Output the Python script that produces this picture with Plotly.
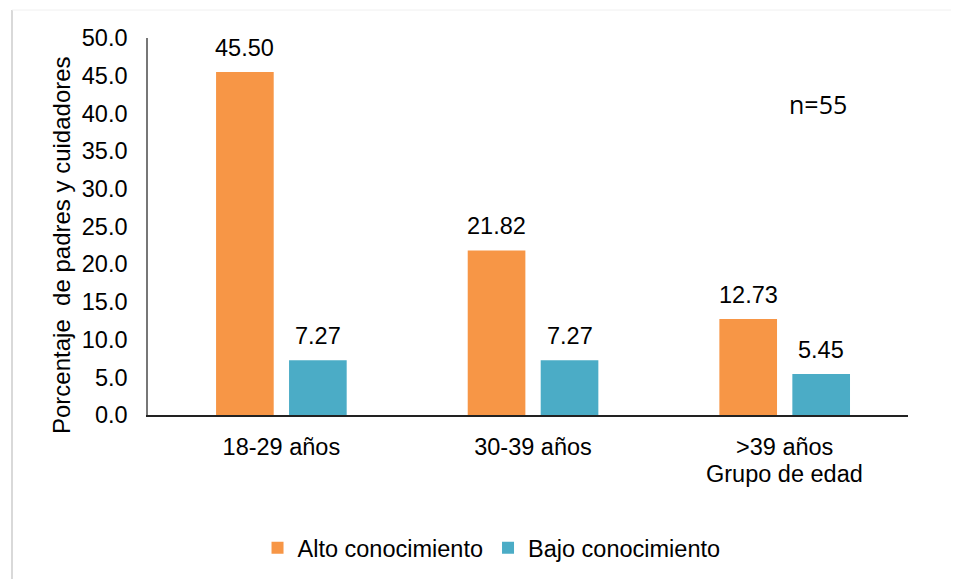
import plotly.graph_objects as go

categories = ["18-29 años", "30-39 años", ">39 años"]
alto = [45.50, 21.82, 12.73]
bajo = [7.27, 7.27, 5.45]
series_names = ["Alto conocimiento", "Bajo conocimiento"]
colors = ["#F79646", "#4BACC6"]
y_ticks = [0, 5, 10, 15, 20, 25, 30, 35, 40, 45, 50]

FONT = "Liberation Sans, Arial, sans-serif"
FS = 23.5
W, H = 951, 571
L, R, T, B = 140, 51, 30, 164
pw = W - L - R
ph = H - T - B


def px_x(x):  # screenshot pixel -> paper x
    return (x - 8 - L) / pw


def px_y(y):  # screenshot pixel -> paper y
    return (H - B - (y - 8)) / ph


fig = go.Figure()
for name, vals, col in zip(series_names, [alto, bajo], colors):
    fig.add_trace(go.Bar(x=categories, y=vals, name=name, marker=dict(color=col, line=dict(width=0))))

# data labels
slot_px = 73
for i, vals in enumerate([alto, bajo]):
    sh = (-0.5 + i) * slot_px
    for c, v in zip(categories, vals):
        fig.add_annotation(x=c, y=v, xref="x", yref="y", text=f"{v:.2f}", showarrow=False,
                           xshift=sh, yshift=24, font=dict(size=FS, color="#000", family=FONT))

fig.add_annotation(x=">39 años", y=0, xref="x", yref="y", text="Grupo de edad", showarrow=False,
                   yshift=-59, font=dict(size=FS, color="#000", family=FONT))
fig.add_annotation(x=px_x(818), y=px_y(104), xref="paper", yref="paper", text="n=55",
                   showarrow=False, xanchor="center", yanchor="middle",
                   font=dict(size=25, color="#000", family="Open Sans, sans-serif"))
fig.add_annotation(x=px_x(61), y=px_y(245), xref="paper", yref="paper",
                   text="Porcentaje  de padres y cuidadores", textangle=-90,
                   showarrow=False, xanchor="center", yanchor="middle",
                   font=dict(size=24, color="#000", family=FONT))

fig.add_shape(type="line", xref="paper", yref="paper",
              x0=px_x(12), x1=px_x(12), y0=px_y(10), y1=px_y(579),
              line=dict(color="#d9d9d9", width=2))
fig.add_shape(type="line", xref="paper", yref="paper",
              x0=px_x(12), x1=px_x(959), y0=px_y(10), y1=px_y(10),
              line=dict(color="#f0f0f0", width=1))

fig.update_layout(
    width=W, height=H,
    margin=dict(l=L, r=R, t=T, b=B, autoexpand=False),
    paper_bgcolor="white", plot_bgcolor="white",
    barmode="group", bargap=0.42, bargroupgap=0.21,
    font=dict(family=FONT, size=FS, color="#000"),
    showlegend=True,
    legend=dict(orientation="h", x=0.452, xanchor="center", y=px_y(548), yanchor="middle",
                font=dict(size=FS, family=FONT), itemwidth=30, traceorder="normal"),
    xaxis=dict(showline=True, linecolor="#222", linewidth=1.5, ticks="", showgrid=False,
               range=[-0.53, 2.49], ticklabelstandoff=10, tickfont=dict(size=FS)),
    yaxis=dict(range=[0, 50], tickvals=y_ticks, tickformat=".1f", showline=True, linecolor="#777",
               linewidth=1.5, ticks="", showgrid=False, zeroline=False, ticklabelstandoff=14,
               tickfont=dict(size=FS)),
)

fig.write_html("out.html")
